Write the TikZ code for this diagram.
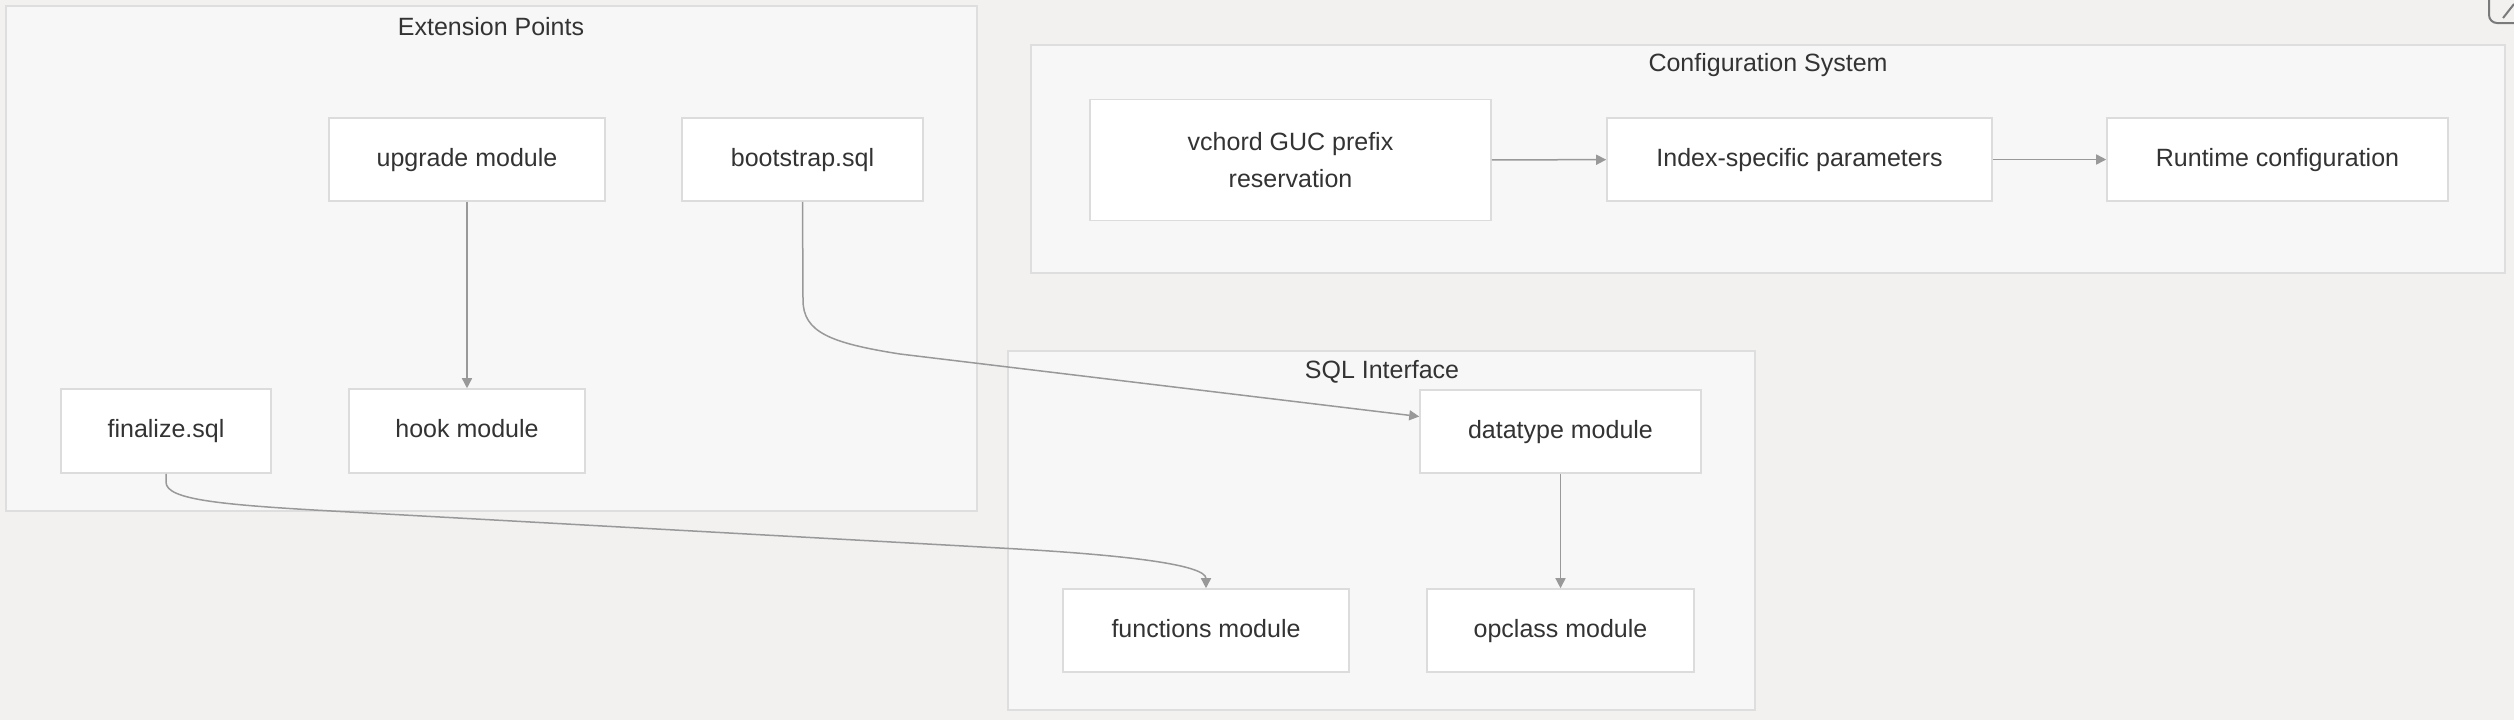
\documentclass[tikz,border=0pt]{standalone}
\usepackage{fontspec}
\setmainfont{Liberation Sans}
\usetikzlibrary{arrows.meta}
\definecolor{bg}{HTML}{F2F1F0}
\definecolor{clfill}{HTML}{F7F7F7}
\definecolor{cldraw}{HTML}{DEDEDE}
\definecolor{nddraw}{HTML}{DCDCDC}
\definecolor{txt}{HTML}{333333}
\definecolor{edgec}{HTML}{999999}
\begin{document}
\begin{tikzpicture}[x=0.5pt,y=-0.5pt,
  cluster/.style={fill=clfill, draw=cldraw, line width=0.8pt},
  box/.style={draw=nddraw, fill=white, line width=0.8pt, text=txt,
    font=\fontsize{12.5}{18.5}\selectfont, align=center, inner sep=0pt,
    minimum height=41.5pt},
  oneline/.style={text height=0.905em, text depth=0.212em},
  ctitle/.style={text=txt, font=\fontsize{12.5}{15}\selectfont, inner sep=0pt},
  link/.style={draw=edgec, line width=0.75pt, -{Triangle[length=5pt,width=5pt]}}]
\clip (0,0) rectangle (2514,720);
\fill[bg] (0,0) rectangle (2514,720);
% corner icon
\draw[edgec!80!black, line width=1pt, rounded corners=4pt] (2489,-20) rectangle (2545,23);
\draw[edgec!80!black, line width=1pt] (2503,18) -- (2514,4);
% clusters
\draw[cluster] (6,6) rectangle (977,511);
\draw[cluster] (1031,45) rectangle (2505,273);
\draw[cluster] (1008,351) rectangle (1755,710);
\node[ctitle] (t1) at (491,27) {Extension Points};
\node[ctitle] (t2) at (1768,65) {Configuration System};
\node[ctitle] (t3) at (1382,372) {SQL Interface};
% nodes
\node[box, oneline, minimum width=138pt] (upgrade) at (467,159.5) {upgrade module};
\node[box, oneline, minimum width=120.5pt] (bootstrap) at (802.5,159.5) {bootstrap.sql};
\node[box, oneline, minimum width=105pt, minimum height=42pt] (finalize) at (166,431) {finalize.sql};
\node[box, oneline, minimum width=118pt, minimum height=42pt] (hook) at (467,431) {hook module};
\node[box, minimum width=200.5pt, minimum height=60.5pt] (vchord) at (1290.5,160) {vchord GUC prefix\\reservation};
\node[box, oneline, minimum width=192.5pt] (index) at (1799.5,159.5) {Index-specific parameters};
\node[box, oneline, minimum width=170.5pt] (runtime) at (2277.5,159.5) {Runtime configuration};
\node[box, oneline, minimum width=140.5pt] (datatype) at (1560.5,431.5) {datatype module};
\node[box, oneline, minimum width=143pt] (functions) at (1206,630.5) {functions module};
\node[box, oneline, minimum width=133.5pt] (opclass) at (1560.5,630.5) {opclass module};
% edges
\draw[link] (upgrade) -- (hook);
\draw[link] (vchord) -- (index);
\draw[link] (index) -- (runtime);
\draw[link] (datatype) -- (opclass);
\draw[link] (bootstrap.south) -- (803,300) .. controls (803,332) and (830,343) .. (900,354) -- ([yshift=7.5pt]datatype.west);
\draw[link] (finalize.south) -- (166,482) .. controls (166,500) and (220,505) .. (350,512) -- (1000,548) .. controls (1130,555) and (1206,565) .. (functions.north);
\end{tikzpicture}
\end{document}
